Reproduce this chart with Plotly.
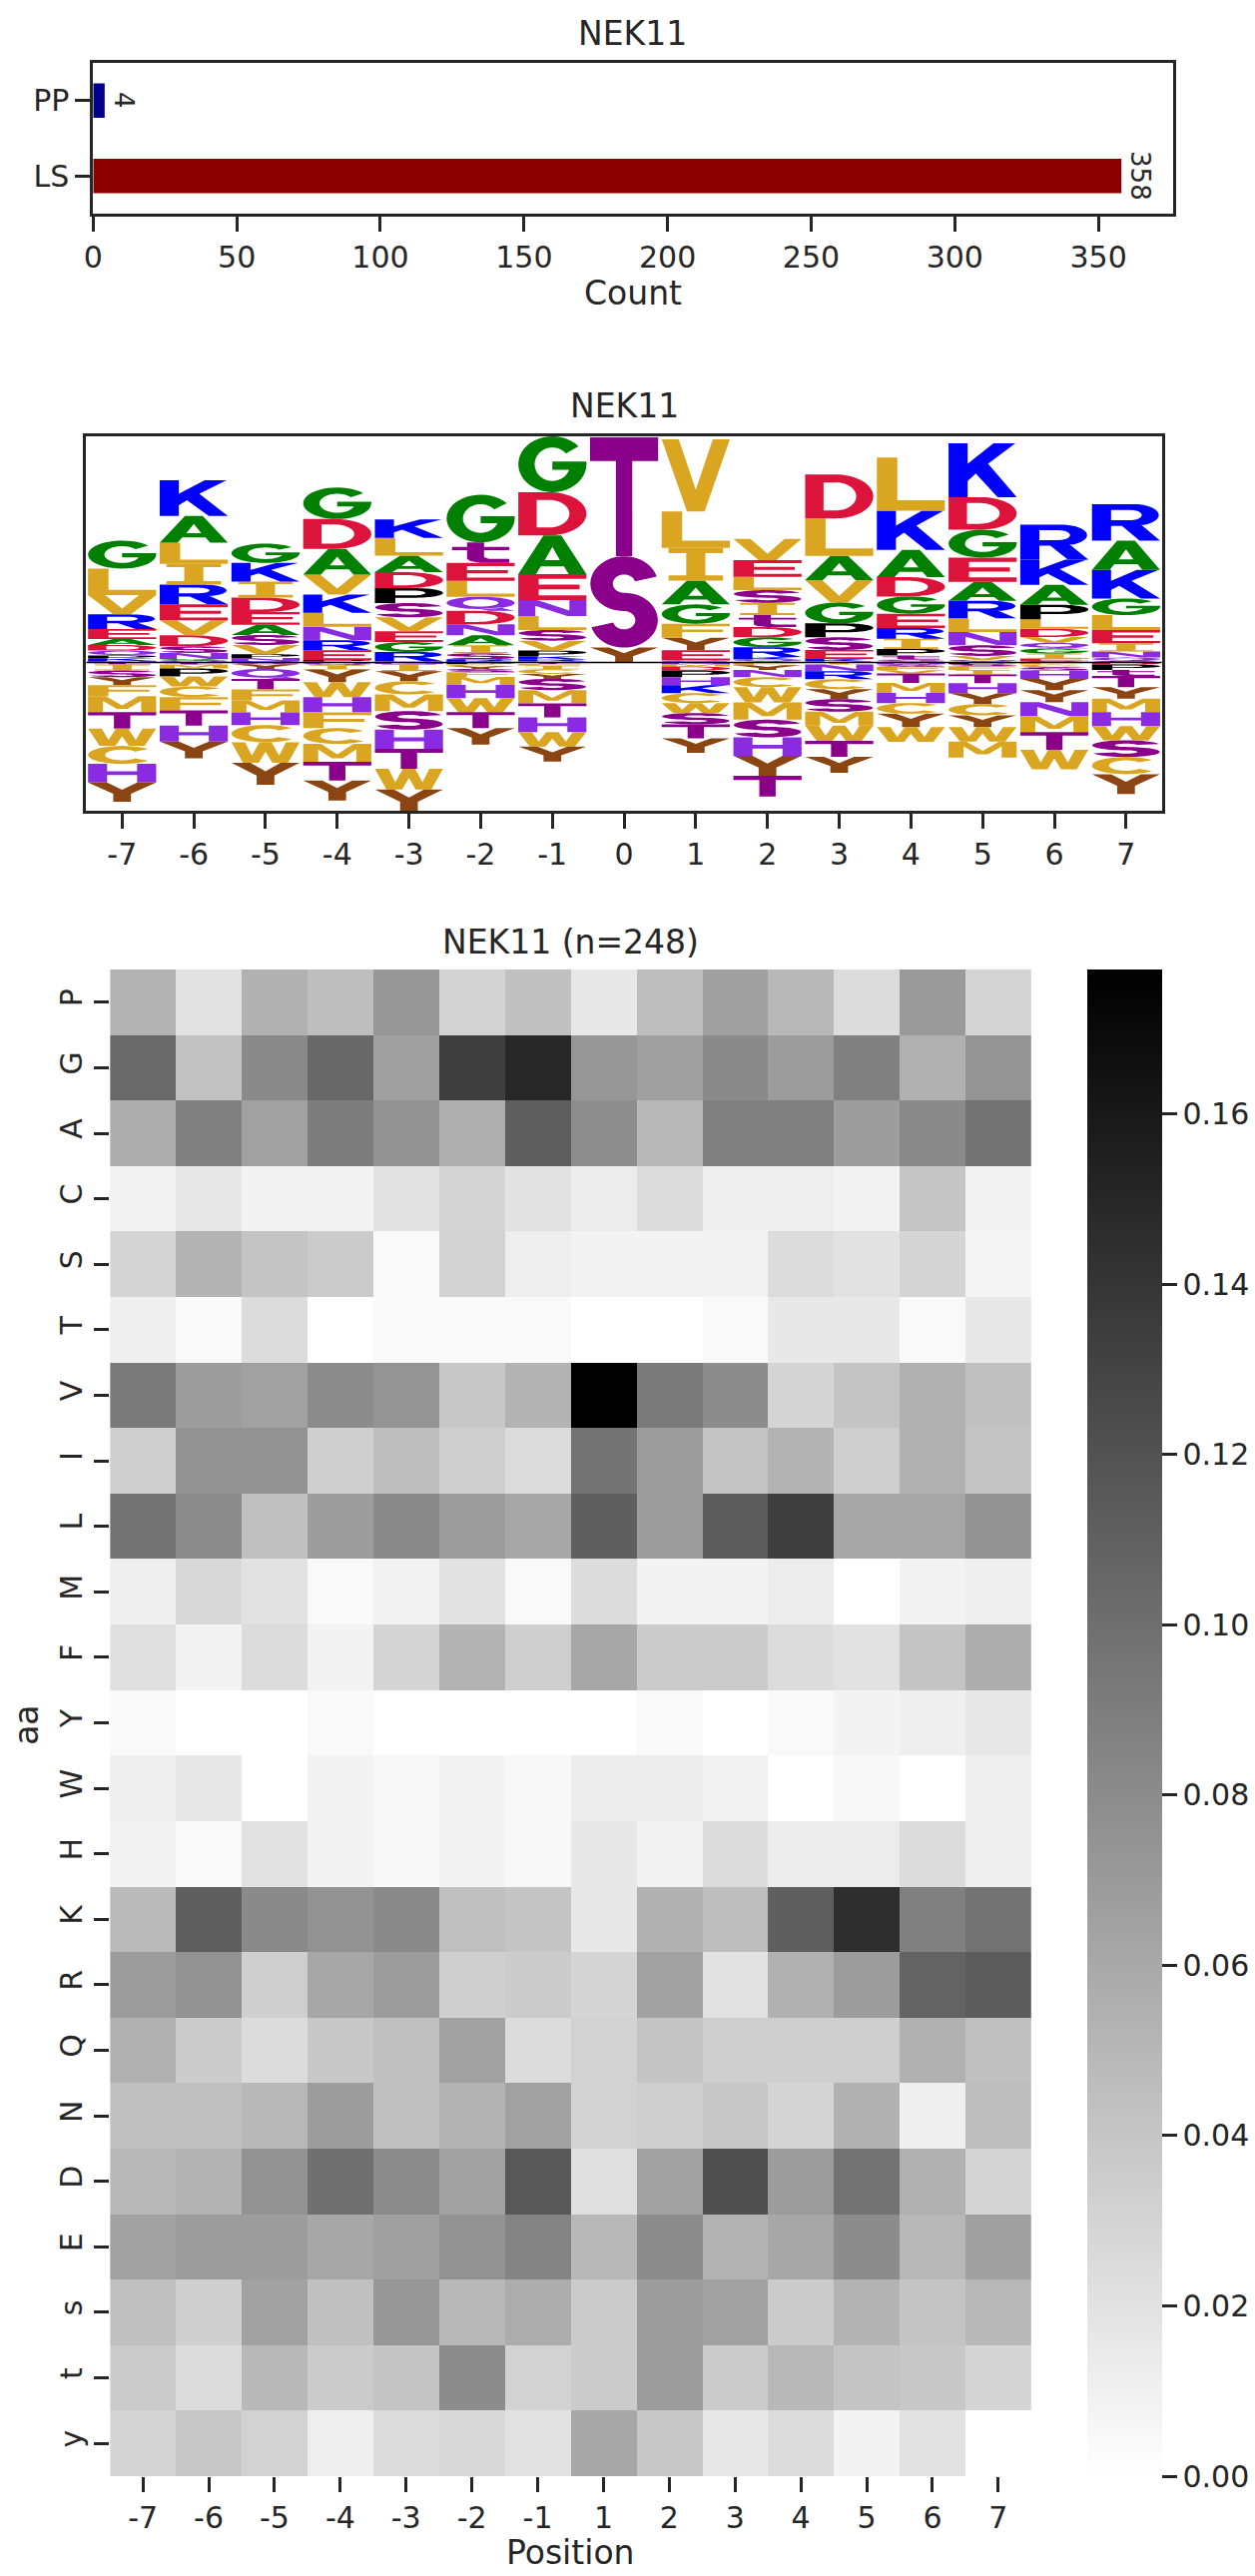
import numpy as np
import plotly.graph_objects as go

FW, FH = 1257, 2580
INK = "#262626"
FONT = "DejaVu Sans"

# ---------------- bar chart data ----------------
bar_cats = ["PP", "LS"]
bar_counts = [4, 358]
bar_colors = ["#00008B", "#8B0000"]

# ---------------- logo data (per position: letter -> height) ----------------
logo_positions = list(range(-7, 8))
pos_m7 = {"G": .84, "L": .80, "V": .58, "R": .44, "E": .30, "A": .18, "D": .17, "Q": .15, "P": .09, "K": .07, "N": .05,
          "t": -.06, "I": -.18, "S": -.20, "y": -.24, "F": -.33, "M": -.48, "T": -.50, "W": -.52, "C": -.54, "H": -.56, "Y": -.58}
pos_m6 = {"K": 1.08, "A": .80, "L": .64, "I": .62, "R": .60, "E": .48, "V": .45, "D": .33, "S": .20, "N": .18, "G": .06, "Q": .05,
          "t": -.06, "M": -.12, "P": -.24, "W": -.30, "C": -.32, "F": -.40, "T": -.46, "H": -.48, "Y": -.50}
pos_m5 = {"G": .58, "K": .56, "I": .48, "D": .44, "E": .38, "A": .31, "S": .30, "V": .28, "P": .11, "N": .10, "R": .04,
          "s": -.05, "y": -.14, "Q": -.30, "T": -.32, "F": -.33, "M": -.36, "H": -.38, "C": -.52, "W": -.62, "Y": -.66}
pos_m4 = {"G": .95, "D": .90, "A": .77, "V": .60, "K": .55, "L": .42, "N": .41, "R": .30, "E": .29, "P": .05, "S": .03,
          "Q": -.08, "I": -.13, "y": -.38, "W": -.45, "H": -.46, "F": -.47, "C": -.48, "M": -.54, "T": -.56, "Y": -.60}
pos_m3 = {"K": .56, "L": .53, "A": .50, "D": .48, "P": .45, "s": .43, "V": .42, "E": .32, "G": .30, "R": .28, "Q": .04,
          "N": -.04, "I": -.22, "y": -.30, "C": -.40, "M": -.50, "S": -.56, "H": -.58, "T": -.60, "W": -.62, "Y": -.64}
pos_m2 = {"G": 1.43, "t": .62, "E": .54, "L": .48, "Q": .42, "D": .41, "N": .33, "A": .30, "I": .24, "S": .18, "R": .06, "K": .04,
          "P": -.05, "C": -.06, "y": -.08, "s": -.10, "F": -.14, "M": -.24, "H": -.40, "W": -.42, "T": -.48, "Y": -.50}
pos_m1 = {"G": 1.68, "D": 1.30, "A": 1.17, "E": .78, "N": .48, "L": .42, "s": .32, "V": .30, "P": .18, "K": .08, "R": .06, "Q": .04,
          "t": -.04, "F": -.05, "I": -.11, "C": -.14, "y": -.15, "S": -.34, "M": -.40, "T": -.42, "H": -.44, "W": -.44, "Y": -.45}
pos_0 = {"T": 3.58, "S": 2.75, "Y": .45}
pos_p1 = {"V": 2.17, "L": 1.10, "I": .98, "A": .72, "G": .58, "F": .42, "y": .38, "E": .30, "Q": .04, "R": .03,
          "N": -.04, "M": -.08, "D": -.12, "P": -.20, "K": -.24, "H": -.24, "W": -.30, "C": -.30, "S": -.34, "T": -.42, "Y": -.44}
pos_p2 = {"V": .64, "E": .50, "L": .40, "s": .38, "I": .37, "t": .36, "D": .31, "G": .30, "R": .29, "K": .08, "Q": .05, "A": .04,
          "F": -.08, "y": -.14, "N": -.22, "C": -.30, "W": -.46, "M": -.52, "S": -.53, "H": -.56, "Y": -.60, "T": -.62}
pos_p3 = {"D": 1.32, "L": 1.13, "A": .73, "V": .67, "G": .63, "P": .42, "s": .38, "E": .27, "K": .08, "Q": .03,
          "I": -.06, "N": -.20, "R": -.24, "C": -.30, "y": -.30, "S": -.38, "M": -.42, "W": -.46, "T": -.48, "Y": -.48}
pos_p4 = {"L": 1.60, "K": 1.18, "A": .82, "D": .58, "G": .52, "E": .43, "R": .32, "I": .31, "P": .20, "t": .12, "S": .06, "Q": .03,
          "N": -.05, "s": -.08, "F": -.10, "V": -.10, "T": -.28, "M": -.30, "H": -.31, "C": -.32, "Y": -.40, "W": -.45}
pos_p5 = {"K": 1.62, "D": .98, "G": .84, "E": .73, "A": .57, "R": .53, "L": .41, "N": .40, "S": .32, "V": .12, "Q": .05, "t": .03,
          "P": -.04, "s": -.08, "F": -.10, "I": -.14, "T": -.26, "H": -.30, "Y": -.33, "C": -.34, "y": -.35, "W": -.44, "M": -.48}
pos_p6 = {"R": 1.05, "K": .76, "A": .60, "P": .44, "L": .28, "D": .25, "V": .18, "G": .16, "Q": .16, "I": .15, "E": .08, "S": .04,
          "F": -.06, "C": -.08, "s": -.10, "H": -.25, "Y": -.34, "y": -.36, "N": -.42, "M": -.48, "T": -.54, "W": -.58}
pos_p7 = {"R": 1.10, "A": .88, "K": .86, "G": .50, "L": .45, "E": .40, "I": .25, "N": .18, "Q": .10, "s": .05,
          "D": -.06, "P": -.16, "t": -.18, "T": -.34, "y": -.35, "M": -.40, "H": -.42, "W": -.43, "S": -.50, "C": -.52, "Y": -.60}
logo_stacks = [pos_m7, pos_m6, pos_m5, pos_m4, pos_m3, pos_m2, pos_m1, pos_0,
               pos_p1, pos_p2, pos_p3, pos_p4, pos_p5, pos_p6, pos_p7]

# ---------------- heatmap data ----------------
hm_positions = ["-7", "-6", "-5", "-4", "-3", "-2", "-1", "1", "2", "3", "4", "5", "6", "7"]
aa_rows = ["P", "G", "A", "C", "S", "T", "V", "I", "L", "M", "F", "Y", "W", "H", "K", "R", "Q", "N", "D", "E", "s", "t", "y"]
hm_P = [0.053, 0.020, 0.054, 0.045, 0.072, 0.031, 0.044, 0.016, 0.045, 0.066, 0.049, 0.024, 0.070, 0.030]
hm_G = [0.104, 0.042, 0.081, 0.105, 0.066, 0.133, 0.149, 0.073, 0.066, 0.081, 0.069, 0.088, 0.054, 0.074]
hm_A = [0.057, 0.088, 0.065, 0.090, 0.075, 0.056, 0.112, 0.079, 0.049, 0.088, 0.088, 0.068, 0.081, 0.097]
hm_C = [0.009, 0.016, 0.008, 0.008, 0.020, 0.029, 0.020, 0.013, 0.024, 0.012, 0.012, 0.008, 0.040, 0.008]
hm_S = [0.029, 0.053, 0.041, 0.036, 0.004, 0.031, 0.012, 0.008, 0.008, 0.009, 0.024, 0.020, 0.029, 0.007]
hm_T = [0.011, 0.004, 0.024, 0.000, 0.004, 0.004, 0.004, 0.000, 0.000, 0.004, 0.016, 0.016, 0.004, 0.016]
hm_V = [0.092, 0.069, 0.065, 0.080, 0.074, 0.038, 0.053, 0.177, 0.092, 0.080, 0.029, 0.041, 0.054, 0.044]
hm_I = [0.033, 0.076, 0.076, 0.033, 0.045, 0.033, 0.024, 0.097, 0.069, 0.041, 0.053, 0.033, 0.054, 0.041]
hm_L = [0.097, 0.080, 0.044, 0.069, 0.081, 0.069, 0.061, 0.111, 0.069, 0.113, 0.133, 0.061, 0.061, 0.076]
hm_M = [0.011, 0.027, 0.020, 0.004, 0.008, 0.020, 0.004, 0.024, 0.008, 0.008, 0.013, 0.000, 0.008, 0.011]
hm_F = [0.022, 0.008, 0.024, 0.008, 0.029, 0.053, 0.033, 0.061, 0.036, 0.036, 0.024, 0.020, 0.041, 0.057]
hm_Y = [0.004, 0.000, 0.000, 0.004, 0.000, 0.000, 0.000, 0.000, 0.004, 0.000, 0.004, 0.008, 0.011, 0.016]
hm_W = [0.011, 0.016, 0.000, 0.008, 0.005, 0.008, 0.005, 0.013, 0.013, 0.008, 0.000, 0.005, 0.000, 0.011]
hm_H = [0.008, 0.004, 0.020, 0.008, 0.005, 0.008, 0.005, 0.016, 0.008, 0.024, 0.013, 0.013, 0.024, 0.011]
hm_K = [0.048, 0.111, 0.081, 0.076, 0.081, 0.044, 0.041, 0.016, 0.054, 0.046, 0.111, 0.145, 0.088, 0.097]
hm_R = [0.069, 0.076, 0.033, 0.061, 0.069, 0.033, 0.036, 0.029, 0.065, 0.020, 0.054, 0.069, 0.108, 0.113]
hm_Q = [0.054, 0.036, 0.024, 0.038, 0.044, 0.065, 0.024, 0.031, 0.041, 0.033, 0.033, 0.033, 0.054, 0.044]
hm_N = [0.044, 0.044, 0.049, 0.069, 0.044, 0.053, 0.065, 0.031, 0.033, 0.038, 0.029, 0.054, 0.011, 0.046]
hm_D = [0.049, 0.053, 0.076, 0.099, 0.080, 0.065, 0.116, 0.022, 0.065, 0.122, 0.069, 0.097, 0.054, 0.029]
hm_E = [0.065, 0.069, 0.069, 0.061, 0.066, 0.076, 0.086, 0.049, 0.080, 0.053, 0.061, 0.080, 0.049, 0.066]
hm_s = [0.044, 0.033, 0.065, 0.044, 0.072, 0.049, 0.057, 0.036, 0.069, 0.065, 0.036, 0.053, 0.041, 0.049]
hm_t = [0.036, 0.024, 0.049, 0.036, 0.041, 0.080, 0.031, 0.036, 0.069, 0.036, 0.049, 0.041, 0.038, 0.029]
hm_y = [0.029, 0.038, 0.031, 0.011, 0.024, 0.027, 0.020, 0.061, 0.038, 0.016, 0.024, 0.008, 0.020, 0.000]
hm_rows = [hm_P, hm_G, hm_A, hm_C, hm_S, hm_T, hm_V, hm_I, hm_L, hm_M, hm_F, hm_Y, hm_W, hm_H,
           hm_K, hm_R, hm_Q, hm_N, hm_D, hm_E, hm_s, hm_t, hm_y]
n_sites = 248

# ---------------- letter colours ----------------
GOLD = "#DAA520"
LETTER_COLORS = {"G": "#008000", "A": "#008000", "K": "#0000FF", "R": "#0000FF",
                 "D": "#DC143C", "E": "#DC143C", "S": "#8B008B", "T": "#8B008B", "s": "#8B008B", "t": "#8B008B",
                 "N": "#8A2BE2", "Q": "#8A2BE2", "H": "#8A2BE2", "P": "#000000",
                 "Y": "#8B4513", "y": "#8B4513",
                 "L": GOLD, "V": GOLD, "I": GOLD, "M": GOLD, "F": GOLD, "W": GOLD, "C": GOLD}


# ---------------- glyph outlines (unit box) ----------------
def arc(cx, cy, rx, ry, a0, a1, n=40):
    t = np.radians(np.linspace(a0, a1, n))
    return [(cx + rx * np.cos(a), cy + ry * np.sin(a)) for a in t]


def s_glyph():
    rx, ry = 0.33, 0.2

    def pts(cy, k, a0, a1):
        return arc(0.5, cy, rx * k, ry * k, a0, a1, 40)
    poly = pts(0.7, 0.5, 15, 270) + pts(0.3, 1.5, 90, -165) + pts(0.3, 0.5, -165, 90) + pts(0.7, 1.5, 270, 15)
    return [(poly, False)]


GLYPHS = {
    "A": [([(0, 0), (0.26, 0), (0.33, 0.2), (0.67, 0.2), (0.74, 0), (1, 0), (0.63, 1), (0.37, 1)], False),
          ([(0.39, 0.36), (0.61, 0.36), (0.5, 0.7)], True)],
    "C": [(arc(0.5, 0.5, 0.5, 0.5, 40, 320) + arc(0.5, 0.5, 0.25, 0.3, 320, 40), False)],
    "D": [([(0, 0), (0.45, 0)] + arc(0.45, 0.5, 0.55, 0.5, -90, 90) + [(0, 1)], False),
          ([(0.27, 0.18), (0.45, 0.18)] + arc(0.45, 0.5, 0.3, 0.32, -90, 90) + [(0.27, 0.82)], True)],
    "E": [([(0, 0), (1, 0), (1, 0.18), (0.3, 0.18), (0.3, 0.42), (0.9, 0.42), (0.9, 0.6), (0.3, 0.6),
            (0.3, 0.82), (1, 0.82), (1, 1), (0, 1)], False)],
    "F": [([(0, 0), (0.3, 0), (0.3, 0.4), (0.9, 0.4), (0.9, 0.58), (0.3, 0.58), (0.3, 0.82), (1, 0.82),
            (1, 1), (0, 1)], False)],
    "G": [(arc(0.5, 0.5, 0.5, 0.5, 40, 360) + [(1.0, 0.55), (0.5, 0.55), (0.5, 0.4), (0.74, 0.4)]
           + arc(0.5, 0.5, 0.26, 0.3, -20, -320), False)],
    "H": [([(0, 0), (0.28, 0), (0.28, 0.4), (0.72, 0.4), (0.72, 0), (1, 0), (1, 1), (0.72, 1), (0.72, 0.6),
            (0.28, 0.6), (0.28, 1), (0, 1)], False)],
    "I": [([(0.1, 1), (0.9, 1), (0.9, 0.84), (0.64, 0.84), (0.64, 0.16), (0.9, 0.16), (0.9, 0), (0.1, 0),
            (0.1, 0.16), (0.36, 0.16), (0.36, 0.84), (0.1, 0.84)], False)],
    "K": [([(0, 0), (0.28, 0), (0.28, 0.3), (0.4, 0.44), (0.72, 0), (1, 0), (0.58, 0.62), (0.98, 1),
            (0.66, 1), (0.28, 0.62), (0.28, 1), (0, 1)], False)],
    "L": [([(0, 0), (1, 0), (1, 0.2), (0.3, 0.2), (0.3, 1), (0, 1)], False)],
    "M": [([(0, 0), (0.22, 0), (0.22, 0.7), (0.42, 0.2), (0.58, 0.2), (0.78, 0.7), (0.78, 0), (1, 0),
            (1, 1), (0.74, 1), (0.5, 0.42), (0.26, 1), (0, 1)], False)],
    "N": [([(0, 0), (0.25, 0), (0.25, 0.65), (0.72, 0), (1, 0), (1, 1), (0.75, 1), (0.75, 0.35),
            (0.28, 1), (0, 1)], False)],
    "P": [([(0, 0), (0.3, 0), (0.3, 0.36), (0.58, 0.36)] + arc(0.58, 0.68, 0.42, 0.32, -90, 90) + [(0, 1)], False),
          ([(0.3, 0.52), (0.56, 0.52)] + arc(0.56, 0.68, 0.18, 0.16, -90, 90) + [(0.3, 0.84)], True)],
    "Q": [(arc(0.5, 0.56, 0.5, 0.44, 0, 360, 60), False),
          (arc(0.5, 0.56, 0.26, 0.26, 0, 360, 60), True),
          ([(0.5, 0.12), (0.62, 0.0), (1.0, 0.0), (0.78, 0.22)], False)],
    "R": [([(0, 0), (0.28, 0), (0.28, 0.4), (0.44, 0.4), (0.7, 0), (1, 0), (0.72, 0.44)]
           + arc(0.6, 0.7, 0.38, 0.3, -66, 90) + [(0, 1)], False),
          ([(0.28, 0.56), (0.56, 0.56)] + arc(0.56, 0.7, 0.17, 0.14, -90, 90) + [(0.28, 0.84)], True)],
    "S": s_glyph(),
    "T": [([(0, 1), (1, 1), (1, 0.8), (0.62, 0.8), (0.62, 0), (0.38, 0), (0.38, 0.8), (0, 0.8)], False)],
    "V": [([(0, 1), (0.25, 1), (0.5, 0.3), (0.75, 1), (1, 1), (0.63, 0), (0.37, 0)], False)],
    "W": [([(0, 1), (0.2, 1), (0.3, 0.35), (0.41, 1), (0.59, 1), (0.7, 0.35), (0.8, 1), (1, 1), (0.83, 0),
            (0.6, 0), (0.5, 0.55), (0.4, 0), (0.17, 0)], False)],
    "Y": [([(0, 1), (0.28, 1), (0.5, 0.62), (0.72, 1), (1, 1), (0.63, 0.42), (0.63, 0), (0.37, 0),
            (0.37, 0.42)], False)],
    "t": [([(0.3, 1.0), (0.55, 1.0), (0.55, 0.78), (0.92, 0.78), (0.92, 0.62), (0.55, 0.62), (0.55, 0.28),
            (0.62, 0.2), (0.92, 0.2), (0.92, 0.0), (0.5, 0.0), (0.35, 0.08), (0.3, 0.2), (0.3, 0.62),
            (0.08, 0.62), (0.08, 0.78), (0.3, 0.78)], False)],
}
GLYPHS["s"] = GLYPHS["S"]
GLYPHS["y"] = GLYPHS["Y"]


def signed_area(a):
    x, y = a[:, 0], a[:, 1]
    return 0.5 * np.sum(x * np.roll(y, -1) - np.roll(x, -1) * y)


def letter_path(letter, xc, y0, y1, width=0.95):
    parts = []
    for pts, hole in GLYPHS[letter]:
        a = np.array(pts, dtype=float)
        ar = signed_area(a)
        if (ar > 0) == hole:
            a = a[::-1]
        xs = xc - width / 2 + a[:, 0] * width
        ys = y0 + a[:, 1] * (y1 - y0)
        parts.append("M" + "L".join(f"{x:.4f},{y:.4f}" for x, y in zip(xs, ys)) + "Z")
    return "".join(parts)


# ---------------- figure ----------------
def px_x(p):
    return p / FW


def px_y(p):
    return 1 - p / FH


fig = go.Figure()

# bar chart
fig.add_trace(go.Bar(x=bar_counts, y=bar_cats, orientation="h", marker=dict(color=bar_colors, line=dict(width=0)),
                     width=0.46, xaxis="x", yaxis="y", showlegend=False))

# heatmap
z = np.array(hm_rows, dtype=float)
fig.add_trace(go.Heatmap(
    z=z, x=list(range(len(hm_positions))), y=list(range(len(aa_rows))),
    colorscale=[[0, "#ffffff"], [1, "#000000"]], zmin=0, zmax=float(np.nanmax(z)),
    xaxis="x3", yaxis="y3", showscale=True,
    colorbar=dict(x=px_x(1088), xanchor="left", y=px_y(971), yanchor="top",
                  len=(2480 - 971) / FH, lenmode="fraction", thickness=75, thicknessmode="pixels",
                  outlinewidth=0, xpad=0, ypad=0, ticks="outside", ticklen=15, tickwidth=3, tickcolor=INK,
                  tickvals=[0, 0.02, 0.04, 0.06, 0.08, 0.10, 0.12, 0.14, 0.16],
                  ticktext=["0.00", "0.02", "0.04", "0.06", "0.08", "0.10", "0.12", "0.14", "0.16"],
                  tickfont=dict(family=FONT, size=30, color=INK)),
))

# logo letters as shapes
shapes = []
pos_tops, neg_bottoms = [], []
for xc, stack in zip(logo_positions, logo_stacks):
    pos_items = sorted([(v, k) for k, v in stack.items() if v > 0])
    neg_items = sorted([(-v, k) for k, v in stack.items() if v < 0])
    y = 0.0
    for v, k in pos_items:
        shapes.append(dict(type="path", path=letter_path(k, xc, y, y + v), xref="x2", yref="y2",
                           fillcolor=LETTER_COLORS[k], line=dict(width=0), layer="above"))
        y += v
    pos_tops.append(y)
    y = 0.0
    for v, k in neg_items:
        shapes.append(dict(type="path", path=letter_path(k, xc, y - v, y), xref="x2", yref="y2",
                           fillcolor=LETTER_COLORS[k], line=dict(width=0), layer="above"))
        y -= v
    neg_bottoms.append(y)
shapes.append(dict(type="line", x0=-7.5, x1=7.5, y0=0, y1=0, xref="x2", yref="y2",
                   line=dict(color="black", width=1.5), layer="above"))

tick_font = dict(family=FONT, size=30, color=INK)
common_axis = dict(showgrid=False, zeroline=False, ticks="outside", ticklen=15, tickwidth=3, tickcolor=INK,
                   tickfont=tick_font)

fig.update_layout(
    width=FW, height=FH, margin=dict(l=0, r=0, t=0, b=0),
    paper_bgcolor="white", plot_bgcolor="white",
    font=dict(family=FONT, color=INK),
    shapes=shapes,
    xaxis=dict(domain=[px_x(84), px_x(1174)], anchor="y", range=[0, max(bar_counts) * 1.05],
               tickvals=[0, 50, 100, 150, 200, 250, 300, 350], showline=True, mirror=True, linewidth=3,
               linecolor=INK, **common_axis),
    yaxis=dict(domain=[px_y(214), px_y(63)], anchor="x", type="category", range=[1.5, -0.5],
               showline=True, mirror=True, linewidth=3, linecolor=INK, **common_axis),
    xaxis2=dict(domain=[px_x(77), px_x(1163)], anchor="y2", range=[-7.5, 7.5],
                tickvals=logo_positions, ticktext=[str(p) for p in logo_positions],
                showline=True, mirror=True, linewidth=3, linecolor=INK, **common_axis),
    yaxis2=dict(domain=[px_y(812), px_y(437)], anchor="x2", range=[min(neg_bottoms), max(pos_tops)],
                showline=True, mirror=True, linewidth=3, linecolor=INK, showgrid=False, zeroline=False,
                showticklabels=False, ticks=""),
    xaxis3=dict(domain=[px_x(101), px_x(1031)], anchor="y3", range=[-0.5, len(hm_positions) - 0.5],
                tickvals=list(range(len(hm_positions))), ticktext=hm_positions, showline=False, **common_axis),
    yaxis3=dict(domain=[px_y(2480), px_y(971)], anchor="x3", range=[len(aa_rows) - 0.5, -0.5],
                tickvals=list(range(len(aa_rows))), ticktext=aa_rows, tickangle=-90, showline=False,
                **common_axis),
)

# value labels on bars
for c, v in zip(bar_cats, bar_counts):
    fig.add_annotation(x=v, y=c, xref="x", yref="y", text=str(v), showarrow=False, textangle=90,
                       xanchor="center", yanchor="middle", xshift=19,
                       font=dict(family=FONT, size=26, color=INK))

title_font = dict(family=FONT, size=33, color=INK)
texts = [
    ("NEK11", 629, 33, 0),
    ("Count", 629, 293, 0),
    ("NEK11", 620, 406, 0),
    (f"NEK11 (n={n_sites})", 566, 943, 0),
    ("Position", 566, 2556, 0),
    ("aa", 16, 1728, -90),
]
for t, x, y, ang in texts:
    fig.add_annotation(x=px_x(x), y=px_y(y), xref="paper", yref="paper", text=t, showarrow=False,
                       xanchor="center", yanchor="middle", textangle=ang, font=title_font)

fig.write_html("out.html", config={"displayModeBar": False},
               post_script="document.body.style.margin='0';document.body.style.overflow='hidden';")
